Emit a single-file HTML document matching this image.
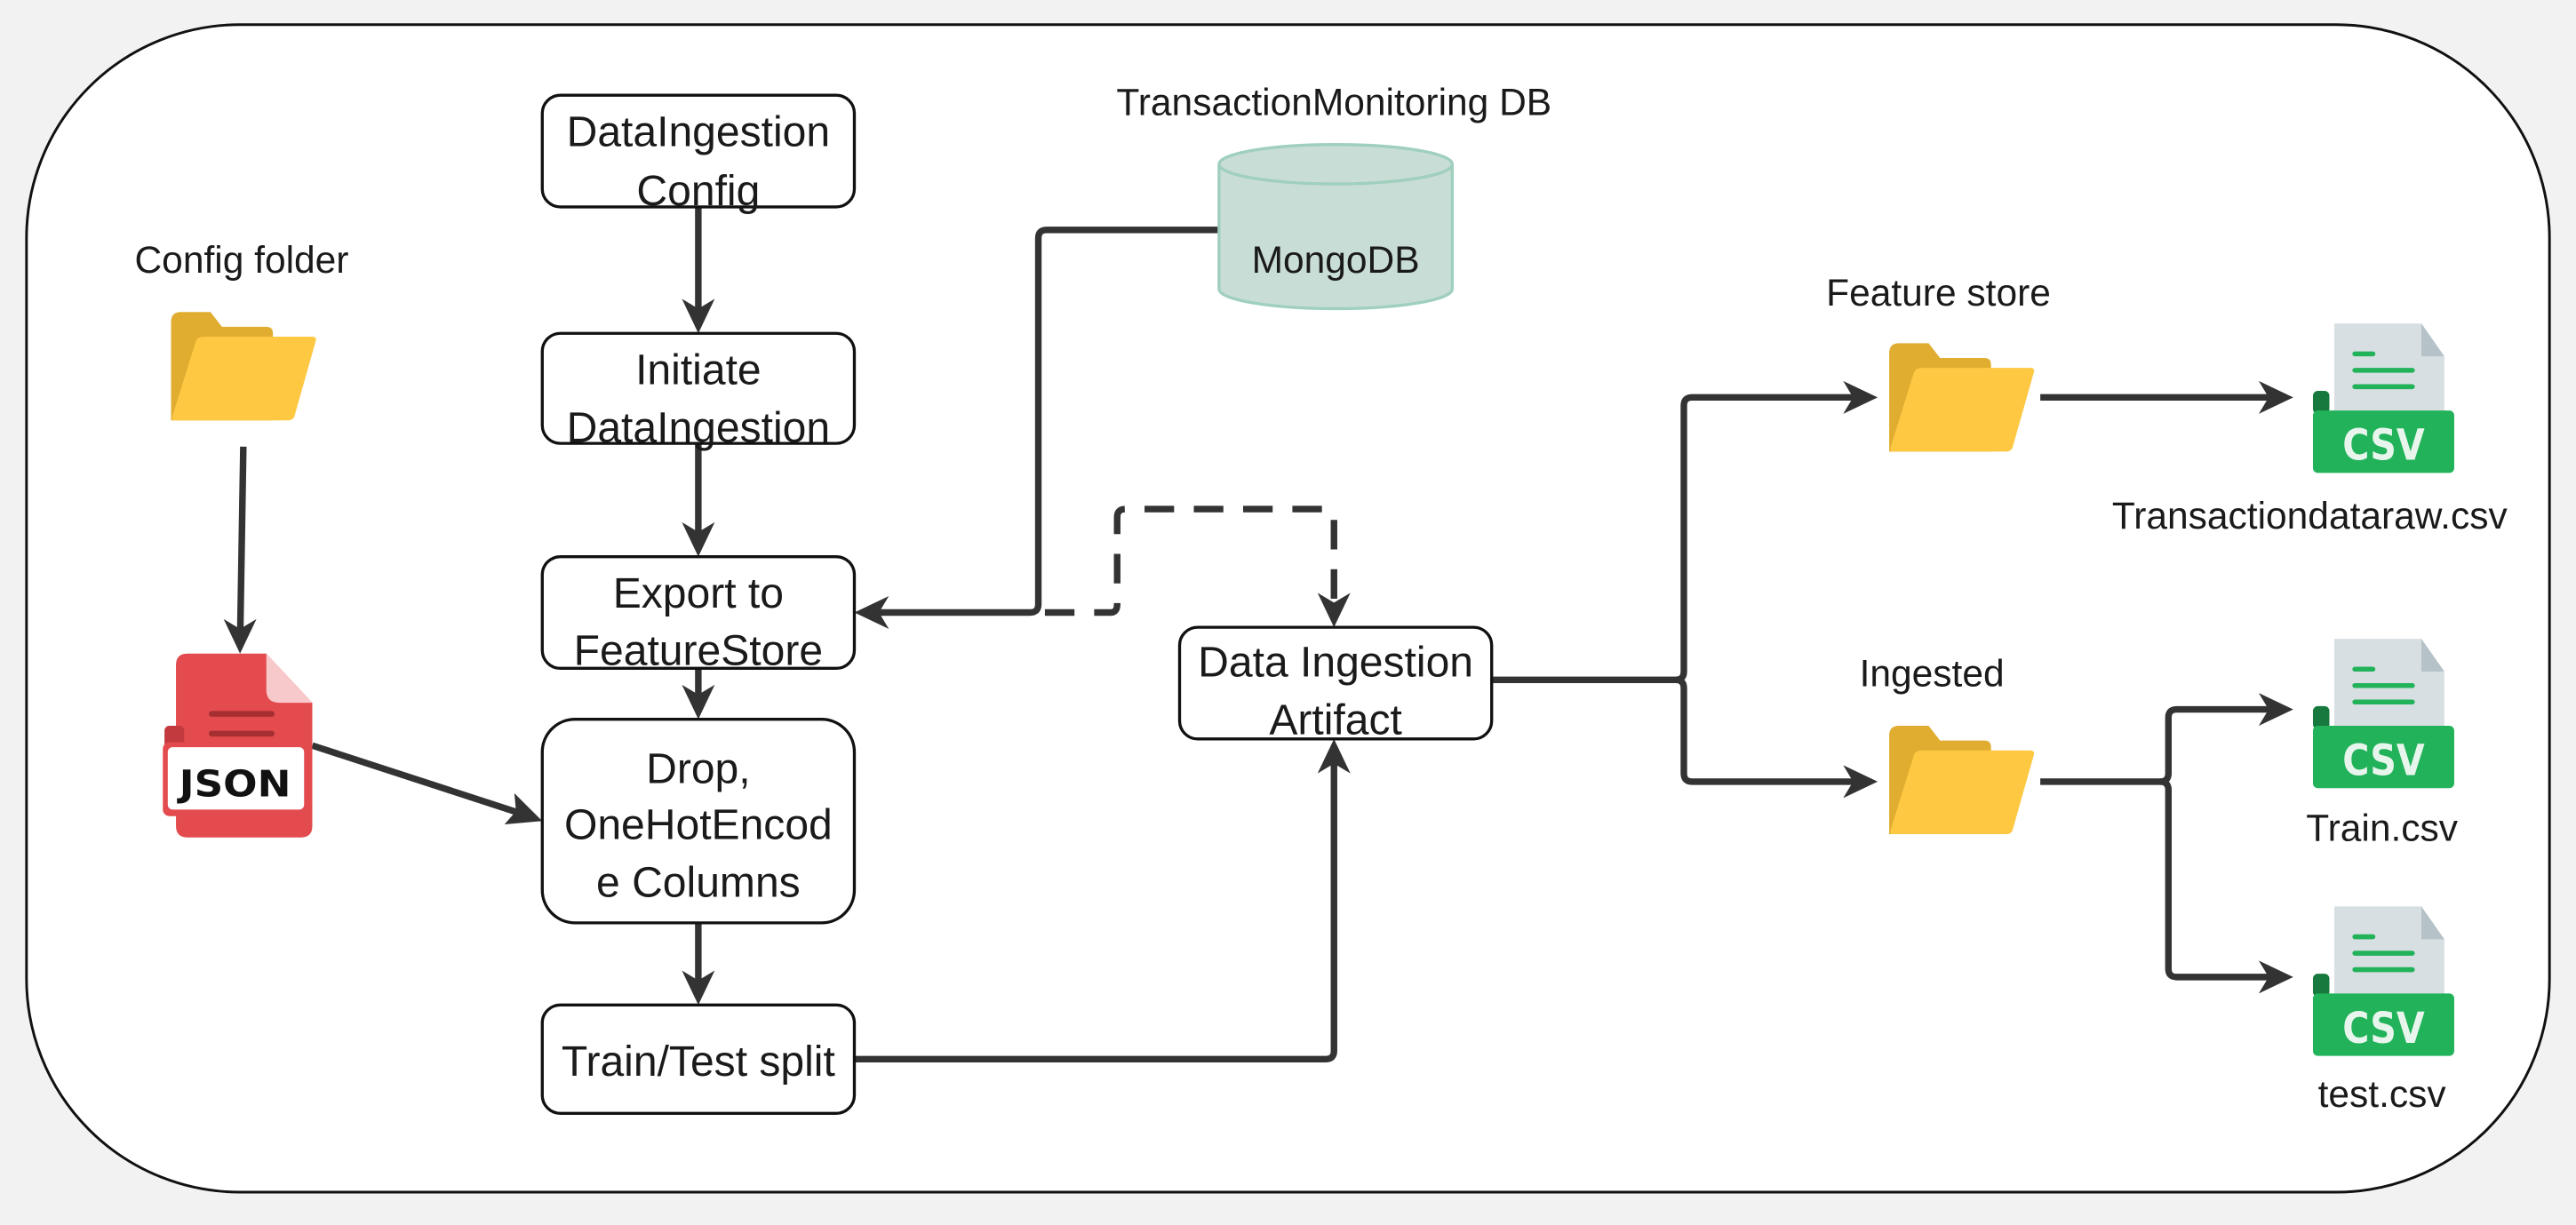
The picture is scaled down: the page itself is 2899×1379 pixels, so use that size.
<!DOCTYPE html>
<html><head><meta charset="utf-8"><style>
html,body{margin:0;padding:0;background:#f2f2f2;}
svg{display:block;}
text{font-family:"Liberation Sans",sans-serif;fill:#1a1a1a;}
</style></head><body>
<svg width="2899" height="1379" viewBox="0 0 1568 746" xmlns="http://www.w3.org/2000/svg">
<defs>
<g id="folder">
<path d="M0 6 Q0 0 6 0 L24 0 L31 9 L58 9 Q62 9 62 13 L62 66 L0 66 Z" fill="#e0ad31"/>
<path d="M15 18 Q16 15 20 15 L86 15 Q89 15 88 18 L75 64 Q74 66 71 66 L2 66 Q0 66 1 63 Z" fill="#fec843"/>
</g>
<g id="csv">
<path d="M13 0 L66 0 L80 20 L80 60 L13 60 Z" fill="#d8dfe2"/>
<path d="M66 0 L80 20 L66 20 Z" fill="#b5c2c8"/>
<rect x="24" y="17" width="14" height="3" rx="1.5" fill="#22b35a"/>
<rect x="24" y="27" width="38" height="3" rx="1.5" fill="#22b35a"/>
<rect x="24" y="37" width="38" height="3" rx="1.5" fill="#22b35a"/>
<rect x="0" y="41" width="10" height="14" rx="3" fill="#17793d"/>
<rect x="0" y="53" width="86" height="38" rx="3" fill="#22b35a"/>
<text x="43" y="83" text-anchor="middle" font-size="26" font-weight="bold" style="fill:#e8f5ed;font-family:'DejaVu Sans',sans-serif" textLength="50" lengthAdjust="spacingAndGlyphs">CSV</text>
</g>
</defs>
<rect x="16" y="15" width="1536" height="711" rx="130" fill="#fff" stroke="#111" stroke-width="1.6"/>

<g fill="none" stroke="#333" stroke-width="4" stroke-linejoin="round">
<line x1="425" y1="126" x2="425" y2="198"/>
<line x1="425" y1="270" x2="425" y2="334"/>
<line x1="425" y1="407" x2="425" y2="433"/>
<line x1="425" y1="562" x2="425" y2="607"/>
<line x1="148" y1="272" x2="146" y2="393"/>
<line x1="190" y1="454" x2="325" y2="498"/>
<path d="M742 140 L637 140 Q632 140 632 145 L632 368 Q632 373 627 373 L526 373"/>
<path d="M520 645 L807 645 Q812 645 812 640 L812 456"/>
<path d="M908 414 L1020 414 Q1025 414 1025 409 L1025 247 Q1025 242 1030 242 L1138 242"/>
<path d="M1020 414 Q1025 414 1025 419 L1025 471 Q1025 476 1030 476 L1138 476"/>
<line x1="1242" y1="242" x2="1391" y2="242"/>
<path d="M1242 476 L1315 476 Q1320 476 1320 471 L1320 437 Q1320 432 1325 432 L1391 432"/>
<path d="M1315 476 Q1320 476 1320 481 L1320 590 Q1320 595 1325 595 L1391 595"/>
<path d="M636 373 L676 373 Q680 373 680 368 L680 315 Q680 310 685 310 L807 310 Q812 310 812 315 L812 376" stroke-dasharray="18 12"/>
</g>
<g fill="#333">
<path d="M425 203 L415 182 L425 188 L435 182 Z"/>
<path d="M425 339 L415 318 L425 324 L435 318 Z"/>
<path d="M425 438 L415 417 L425 423 L435 417 Z"/>
<path d="M425 612 L415 591 L425 597 L435 591 Z"/>
<path d="M146 398 L136 377 L146 383 L156 377 Z"/>
<path d="M812 382 L802 361 L812 367 L822 361 Z"/>
<path d="M812 450 L802 471 L812 465 L822 471 Z"/>
<path d="M520 373 L541 363 L535 373 L541 383 Z"/>
<path d="M330 500 L307 502 L314 494 L313 483 Z"/>
<path d="M1143 242 L1122 232 L1128 242 L1122 252 Z"/>
<path d="M1143 476 L1122 466 L1128 476 L1122 486 Z"/>
<path d="M1396 242 L1375 232 L1381 242 L1375 252 Z"/>
<path d="M1396 432 L1375 422 L1381 432 L1375 442 Z"/>
<path d="M1396 595 L1375 585 L1381 595 L1375 605 Z"/>
</g>

<g fill="#fff" stroke="#111" stroke-width="1.8">
<rect x="330" y="58" width="190" height="68" rx="11"/>
<rect x="330" y="203" width="190" height="67" rx="11"/>
<rect x="330" y="339" width="190" height="68" rx="11"/>
<rect x="330" y="438" width="190" height="124" rx="20"/>
<rect x="330" y="612" width="190" height="66" rx="11"/>
<rect x="718" y="382" width="190" height="68" rx="11"/>
</g>
<g font-size="26" text-anchor="middle">
<text x="425" y="89">DataIngestion</text>
<text x="425" y="125">Config</text>
<text x="425" y="234">Initiate</text>
<text x="425" y="269">DataIngestion</text>
<text x="425" y="370">Export to</text>
<text x="425" y="405">FeatureStore</text>
<text x="425" y="477">Drop,</text>
<text x="425" y="511">OneHotEncod</text>
<text x="425" y="546">e Columns</text>
<text x="425" y="655">Train/Test split</text>
<text x="813" y="412">Data Ingestion</text>
<text x="813" y="447">Artifact</text>
</g>

<path d="M742 100 L742 176 A71 12 0 0 0 884 176 L884 100" fill="#c8ddd5" stroke="#9fcfbd" stroke-width="1.8"/>
<ellipse cx="813" cy="100" rx="71" ry="12" fill="#c8ddd5" stroke="#9fcfbd" stroke-width="1.8"/>
<text x="813" y="166" font-size="23" text-anchor="middle">MongoDB</text>

<g font-size="23" text-anchor="middle">
<text x="812" y="70">TransactionMonitoring DB</text>
<text x="147" y="166">Config folder</text>
<text x="1180" y="186">Feature store</text>
<text x="1176" y="418">Ingested</text>
<text x="1406" y="322">Transactiondataraw.csv</text>
<text x="1450" y="512">Train.csv</text>
<text x="1450" y="674">test.csv</text>
</g>

<use href="#folder" x="104" y="190"/>
<use href="#folder" x="1150" y="209"/>
<use href="#folder" x="1150" y="442"/>
<use href="#csv" x="1408" y="197"/>
<use href="#csv" x="1408" y="389"/>
<use href="#csv" x="1408" y="552"/>

<g>
<path d="M114 398 L162 398 L190 428 L190 503 Q190 510 183 510 L114 510 Q107 510 107 503 L107 405 Q107 398 114 398 Z" fill="#e34b4e"/>
<path d="M162 398 L190 428 L170 428 Q162 428 162 420 Z" fill="#f8c9cb"/>
<rect x="100" y="442" width="12" height="16" rx="3" fill="#c23a3d"/>
<rect x="127" y="433" width="40" height="3.5" rx="1.7" fill="#a62f32"/>
<rect x="127" y="445" width="40" height="3.5" rx="1.7" fill="#a62f32"/>
<rect x="99" y="452" width="89" height="45" rx="4" fill="#e34b4e"/>
<rect x="102" y="455" width="83" height="38" rx="3" fill="#fff"/>
<text x="143" y="485" font-size="22" font-weight="bold" text-anchor="middle" style="font-family:'DejaVu Sans',sans-serif;fill:#111" textLength="68" lengthAdjust="spacingAndGlyphs">JSON</text>
</g>
</svg>
</body></html>
